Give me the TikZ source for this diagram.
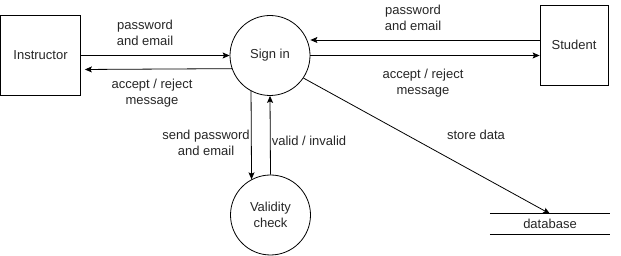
\documentclass[tikz,border=0pt]{standalone}
\usepackage{fontspec}
\setmainfont{Liberation Sans}
\usetikzlibrary{arrows.meta}
\begin{document}
\begin{tikzpicture}[x=1pt,y=-1pt,
  every node/.style={font=\fontsize{13}{15.5}\selectfont, text=black!85},
  entity/.style={draw, line width=0.8pt, minimum width=#1, minimum height=80pt, inner sep=0pt},
  process/.style={draw, circle, line width=0.8pt, minimum size=80pt, inner sep=0pt, align=center},
  store/.style={minimum width=120pt, minimum height=20pt, inner sep=0pt},
  flow/.style={draw, line width=0.8pt, -{Stealth[length=7pt,width=6pt,inset=1.5pt]}},
  lbl/.style={align=center, inner sep=0pt}
]
\useasboundingbox (0,0) rectangle (621,256);

% external entities
\node[entity=80pt] (instr) at (40.5,55.5) {Instructor};
\node[entity=68pt] (student) at (574,45) {Student};

% processes
\node[process] (signin) at (270,55.5) {Sign in};
\node[process] (valid) at (270.5,215) {Validity\\check};

% data store
\node[store] (db) at (550,224) {database};
\draw[line width=0.8pt] (db.north west) -- (db.north east)
                        (db.south west) -- (db.south east);

% data flows
\draw[flow] (instr.east) -- (signin.west);
\draw[flow, shorten >=4pt] (signin.199) -- ([yshift=-14pt]instr.east);
\draw[flow] ([yshift=5pt]student.west) -- ([yshift=5pt]student.west -| signin.east);
\draw[flow] (signin.east) -- (student.west |- signin.east);
\draw[flow] (signin.242) -- (valid.118);
\draw[flow] (valid.north) -- (signin.south);
\draw[flow] (signin.-34) -- (db.north);

% flow labels
\node[lbl] (l1) at (145,33) {password\\and email};
\node[lbl] (l2) at (152,93) {accept / reject\\message};
\node[lbl] (l3) at (413,18) {password\\and email};
\node[lbl] (l4) at (423,83) {accept / reject\\message};
\node[lbl] (l5) at (206,143) {send password\\and email};
\node[lbl] (l6) at (309,141) {valid / invalid};
\node[lbl] (l7) at (476,135) {store data};
\end{tikzpicture}
\end{document}
